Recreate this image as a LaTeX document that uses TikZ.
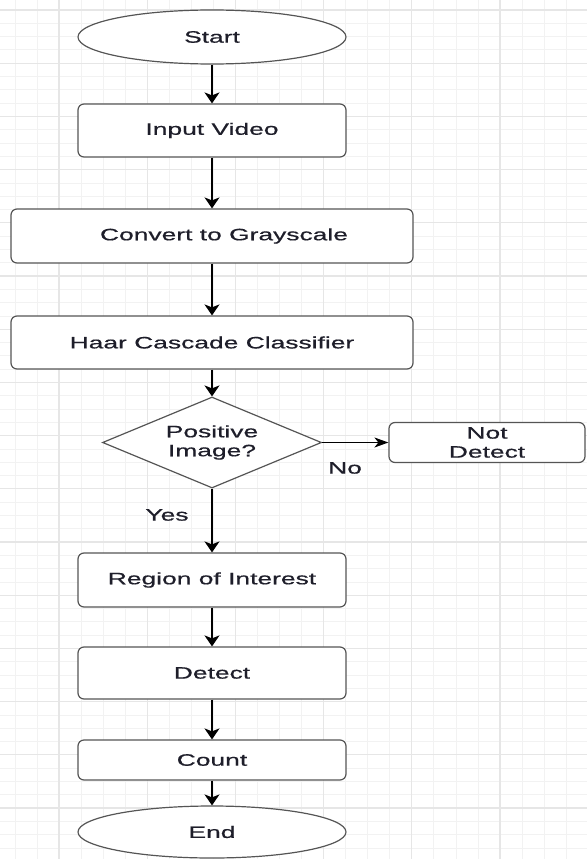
\documentclass[tikz,border=0pt]{standalone}
\usepackage{fontspec}
\setmainfont{Liberation Sans}
\newfontfamily\widefont[FakeStretch=1.6,FakeBold=0.6]{Liberation Sans}
\newcommand\diagfont{\widefont\fontsize{16.5}{19}\selectfont}
\usetikzlibrary{shapes.geometric,arrows.meta}
\definecolor{boxc}{HTML}{555555}
\definecolor{gridmajor}{HTML}{E6E6E6}
\definecolor{gridminor}{HTML}{F2F2F2}
\definecolor{txtc}{HTML}{1E1E2A}
\begin{document}
\begin{tikzpicture}[x=1pt,y=-1pt,
  proc/.style={draw=boxc, line width=1.2pt, rounded corners=6pt, fill=white, inner sep=0pt, font=\diagfont, text=txtc, align=center},
  term/.style={draw=boxc, line width=1.2pt, ellipse, fill=white, inner sep=0pt, minimum width=268pt, font=\diagfont, text=txtc},
  decision/.style={draw=boxc, line width=1.2pt, diamond, aspect=2.4, fill=white, inner sep=0pt, minimum width=219pt, minimum height=91pt, font=\diagfont, text=txtc, align=center},
  lbl/.style={font=\diagfont, text=txtc, inner sep=0pt},
  varr/.style={draw=black, line width=1.6pt, -{Stealth[length=11pt,width=15pt,inset=3pt]}},
  harr/.style={draw=black, line width=1.4pt, -{Stealth[length=14pt,width=10pt,inset=4pt]}}]
\useasboundingbox (0,0) rectangle (587,859);
\fill[white] (0,0) rectangle (587,859);
% grid
\foreach \i in {0,...,27} {
  \draw[gridminor, line width=0.8pt] ({14.9+22.05*\i},0) -- ({14.9+22.05*\i},859);
}
\foreach \i in {0,...,65} {
  \draw[gridminor, line width=0.8pt] (0,{10+13.3*\i}) -- (587,{10+13.3*\i});
}
\foreach \i in {0,...,6} {
  \draw[gridmajor, line width=1.2pt] ({59+88.2*\i},0) -- ({59+88.2*\i},859);
}
\foreach \i in {0,...,16} {
  \draw[gridmajor, line width=1.2pt] (0,{10+53.2*\i}) -- (587,{10+53.2*\i});
}
% nodes
\node[term, minimum height=54pt] (start) at (212,37) {Start};
\node[proc, minimum width=268pt, minimum height=53pt] (input) at (212,130.5) {Input Video};
\node[proc, minimum width=402pt, minimum height=54pt] (gray) at (212,236) {\hspace*{24pt}Convert to Grayscale};
\node[proc, minimum width=402pt, minimum height=53pt] (haar) at (212,342.5) {Haar Cascade Classifier};
\node[decision] (dec) at (212,442.5) {Positive\\Image?};
\node[proc, minimum width=196pt, minimum height=40pt] (nd) at (487,442.5) {Not\\Detect};
\node[proc, minimum width=268pt, minimum height=54pt] (roi) at (212,580) {Region of Interest};
\node[proc, minimum width=268pt, minimum height=52pt] (det) at (212,673) {Detect};
\node[proc, minimum width=268pt, minimum height=40pt] (cnt) at (212,760) {Count};
\node[term, minimum height=52pt] (end) at (212,832) {End};
\node[lbl] (yes) at (167,515) {Yes};
\node[lbl] (no) at (345,468) {No};
% connectors
\draw[varr] (start) -- (input);
\draw[varr] (input) -- (gray);
\draw[varr] (gray) -- (haar);
\draw[varr] (haar) -- (dec);
\draw[harr] (dec) -- (nd);
\draw[varr] (dec) -- (roi);
\draw[varr] (roi) -- (det);
\draw[varr] (det) -- (cnt);
\draw[varr] (cnt) -- (end);
\end{tikzpicture}
\end{document}
